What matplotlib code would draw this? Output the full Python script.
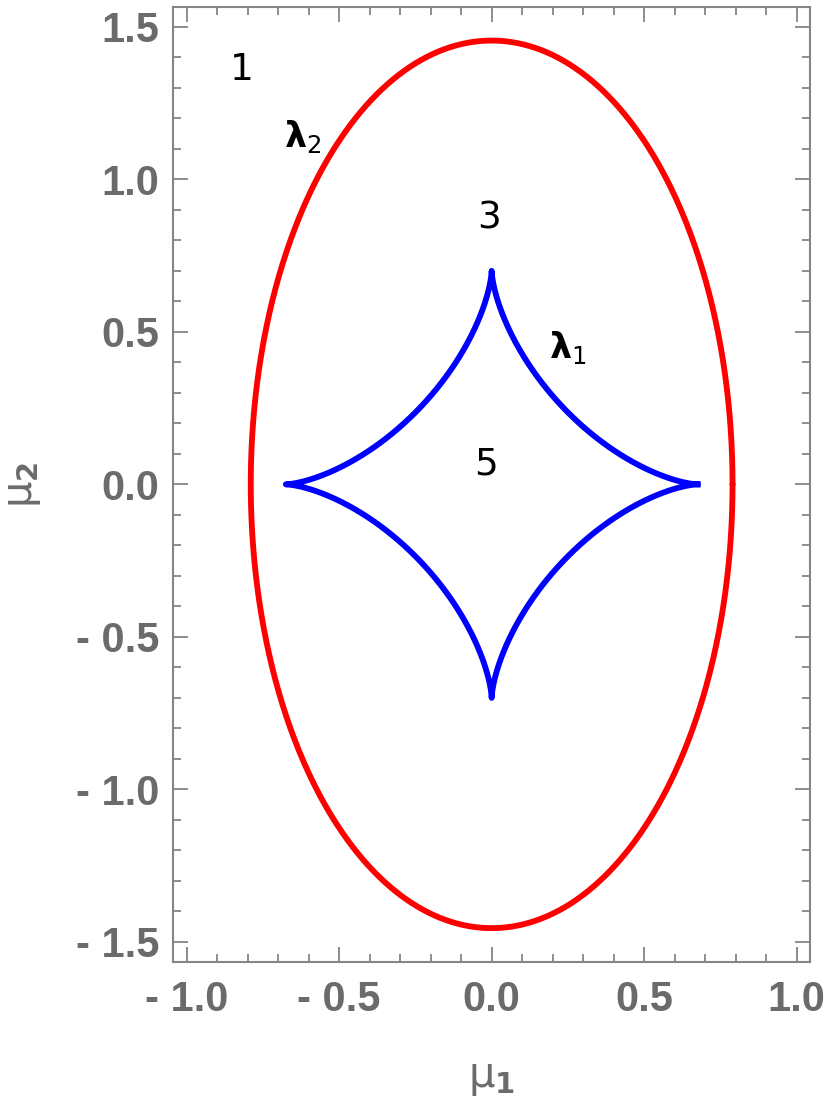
from matplotlib import pyplot as plt
from matplotlib.ticker import MultipleLocator, FuncFormatter
import numpy as np

# curve parameters
ellipse_axes = [0.79, 1.455]     # lambda_2 : semi-axes (mu1, mu2)
astroid_axes = [0.675, 0.70]     # lambda_1 : cusp positions (mu1, mu2)

# region / curve labels
labels = ['1', r'$\mathbf{\lambda}_2$', '3', r'$\mathbf{\lambda}_1$', '5']
label_x = [-0.82, -0.62, -0.01, 0.25, -0.02]
label_y = [1.36, 1.14, 0.87, 0.45, 0.065]

gray = '#6b6b6b'
frame = '#858585'
tick_font = ['Liberation Sans Narrow', 'Liberation Sans', 'DejaVu Sans']

fig = plt.figure(figsize=(8.3, 11.13), dpi=100)
ax = fig.add_axes([173.3/830, 1 - 961.7/1113, (810-173.3)/830, (961.7-7)/1113])

t = np.linspace(0, 2*np.pi, 1000)
ax.plot(ellipse_axes[0]*np.cos(t), ellipse_axes[1]*np.sin(t), color='red', lw=4.2,
        solid_capstyle='round')
ax.plot(astroid_axes[0]*np.cos(t)**3, astroid_axes[1]*np.sin(t)**3, color='blue', lw=4.2)

for s, x, y in zip(labels, label_x, label_y):
    if s.startswith('$'):
        ax.text(x, y, s, fontsize=25, ha='center', va='center', color='black')
    else:
        ax.text(x, y, s, fontsize=27, ha='center', va='center', color='black')

ax.set_xlim(-1.044, 1.044)
ax.set_ylim(-1.565, 1.565)

fmt = FuncFormatter(lambda v, p: ('- %.1f' % abs(v)) if v < -1e-9 else '%.1f' % abs(v))
ax.xaxis.set_major_locator(MultipleLocator(0.5))
ax.xaxis.set_minor_locator(MultipleLocator(0.1))
ax.yaxis.set_major_locator(MultipleLocator(0.5))
ax.yaxis.set_minor_locator(MultipleLocator(0.1))
ax.xaxis.set_major_formatter(fmt)
ax.yaxis.set_major_formatter(fmt)

ax.tick_params(which='both', direction='in', top=True, right=True, color=frame, width=1.3)
ax.tick_params(which='major', length=11, labelsize=30, labelcolor=gray)
ax.tick_params(axis='x', which='major', pad=13)
ax.tick_params(axis='y', which='major', pad=10)
ax.tick_params(which='minor', length=6)
for lab in ax.get_xticklabels() + ax.get_yticklabels():
    lab.set_fontweight('bold')
    lab.set_family(tick_font)
for sp in ax.spines.values():
    sp.set_color(frame)
    sp.set_linewidth(1.5)

ax.set_xlabel(r'$\mathregular{\mu_{\mathbf{1}}}$', fontsize=30, color=gray, labelpad=26)
ax.set_ylabel(r'$\mathregular{\mu_{\mathbf{2}}}$', fontsize=30, color=gray, labelpad=24)

fig.savefig('out.png', dpi=100)
